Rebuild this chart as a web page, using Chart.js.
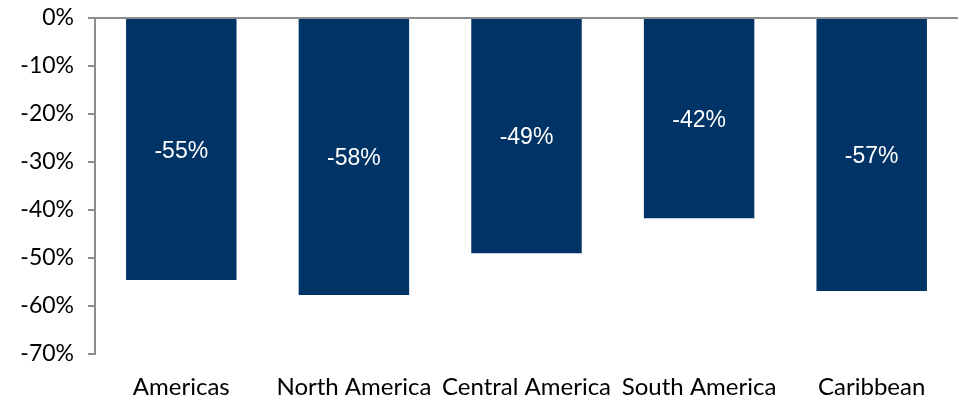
<!DOCTYPE html>
<html>
<head>
<meta charset="utf-8">
<script src="https://cdn.jsdelivr.net/npm/chart.js@4"></script>
<style>
  html, body { margin: 0; padding: 0; background: #fff; }
  #wrap { width: 959px; height: 400px; }
</style>
</head>
<body>
<div id="wrap"><canvas id="myChart"></canvas></div>
<script>
var categories = ['Americas', 'North America', 'Central America', 'South America', 'Caribbean'];
var changes = [-54.6, -57.7, -49.0, -41.7, -56.9];
var yTicks = [0, -10, -20, -30, -40, -50, -60, -70];

// white value labels in the middle of each bar
var barLabels = {
  id: 'barLabels',
  afterDatasetsDraw: (chart) => {
    var ctx = chart.ctx;
    var meta = chart.getDatasetMeta(0);
    ctx.save();
    ctx.font = '23px "Liberation Sans", Arial, sans-serif';
    ctx.fillStyle = '#fff';
    ctx.textAlign = 'center';
    ctx.textBaseline = 'middle';
    meta.data.forEach((bar, i) => {
      var p = bar.getCenterPoint();
      ctx.fillText(Math.round(changes[i]) + '%', p.x, p.y + 2);
    });
    ctx.restore();
  }
};

new Chart('myChart', {
  type: 'bar',
  data: {
    labels: categories,
    datasets: [{
      data: changes,
      backgroundColor: '#003366',
      categoryPercentage: 0.64,
      barPercentage: 1
    }]
  },
  options: {
    responsive: true,
    maintainAspectRatio: false,
    animation: false,
    layout: { padding: { top: 18, right: 1, left: 0, bottom: 0 } },
    plugins: { legend: { display: false }, tooltip: { enabled: false } },
    scales: {
      x: {
        grid: { display: false },
        border: { display: false },
        ticks: {
          color: '#000',
          font: { family: 'Lato', size: 24 },
          padding: 11,
          maxRotation: 0,
          autoSkip: false
        },
        afterFit: (s) => {
          s.height = 46;
          s.paddingLeft = 0;
          s.paddingRight = 0;
        }
      },
      y: {
        min: -70,
        max: 0,
        afterBuildTicks: (s) => { s.ticks = yTicks.map(v => ({ value: v })); },
        grid: {
          color: (c) => c.tick && c.tick.value === 0 ? '#8c8c8c' : 'rgba(0,0,0,0)',
          tickColor: '#8c8c8c',
          tickLength: 7,
          lineWidth: 2
        },
        border: { display: true, color: '#8c8c8c', width: 2 },
        ticks: {
          color: '#000',
          font: { family: 'Lato', size: 23 },
          padding: 14,
          callback: (v) => v + '%'
        },
        afterFit: (s) => {
          s.width = 95;
          s.paddingTop = 0;
          s.paddingBottom = 0;
        }
      }
    }
  },
  plugins: [barLabels]
});
</script>
</body>
</html>
